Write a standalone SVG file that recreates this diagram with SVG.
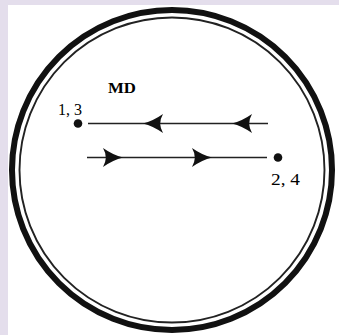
<svg xmlns="http://www.w3.org/2000/svg" width="339" height="335" viewBox="0 0 339 335">
<defs>
<style>
.lbl{font-family:"Liberation Serif","Times New Roman",serif;fill:#000;}
.ln{stroke:#222;stroke-width:1.4;fill:none;}
.ah{fill:#111;}
.dot{fill:#111;}
</style>
<path id="arrowL" d="M0,0 Q10,-2.5 20,-9.5 Q14.5,0 20,9.5 Q10,2.5 0,0 Z"/>
</defs>
<rect x="0" y="0" width="339" height="335" fill="#e4deec"/>
<rect x="8" y="5" width="331" height="330" fill="#ffffff"/>
<g id="frame">
<circle cx="172" cy="170" r="160" fill="none" stroke="#111" stroke-width="6"/>
<circle cx="172" cy="170" r="152.5" fill="none" stroke="#222" stroke-width="1.9"/>
</g>
<g id="node-md"><text class="lbl" x="108" y="93" font-size="14" font-weight="bold" textLength="28" lengthAdjust="spacingAndGlyphs">MD</text></g>
<g id="node-13">
<circle class="dot" cx="78" cy="123.5" r="4.3"/>
<text class="lbl" x="58" y="115" font-size="16" textLength="24" lengthAdjust="spacingAndGlyphs">1, 3</text>
</g>
<g id="node-24">
<circle class="dot" cx="278" cy="157.5" r="4.3"/>
<text class="lbl" x="271" y="185" font-size="16" textLength="29" lengthAdjust="spacingAndGlyphs">2, 4</text>
</g>
<g id="connectors">
<line class="ln" x1="88" y1="123.5" x2="268" y2="123.5"/>
<use href="#arrowL" class="ah" transform="translate(143,123.5)"/>
<use href="#arrowL" class="ah" transform="translate(232,123.5)"/>
<line class="ln" x1="87" y1="157.5" x2="267" y2="157.5"/>
<use href="#arrowL" class="ah" transform="translate(123,157.5) scale(-1,1)"/>
<use href="#arrowL" class="ah" transform="translate(212,157.5) scale(-1,1)"/>
</g>
</svg>
